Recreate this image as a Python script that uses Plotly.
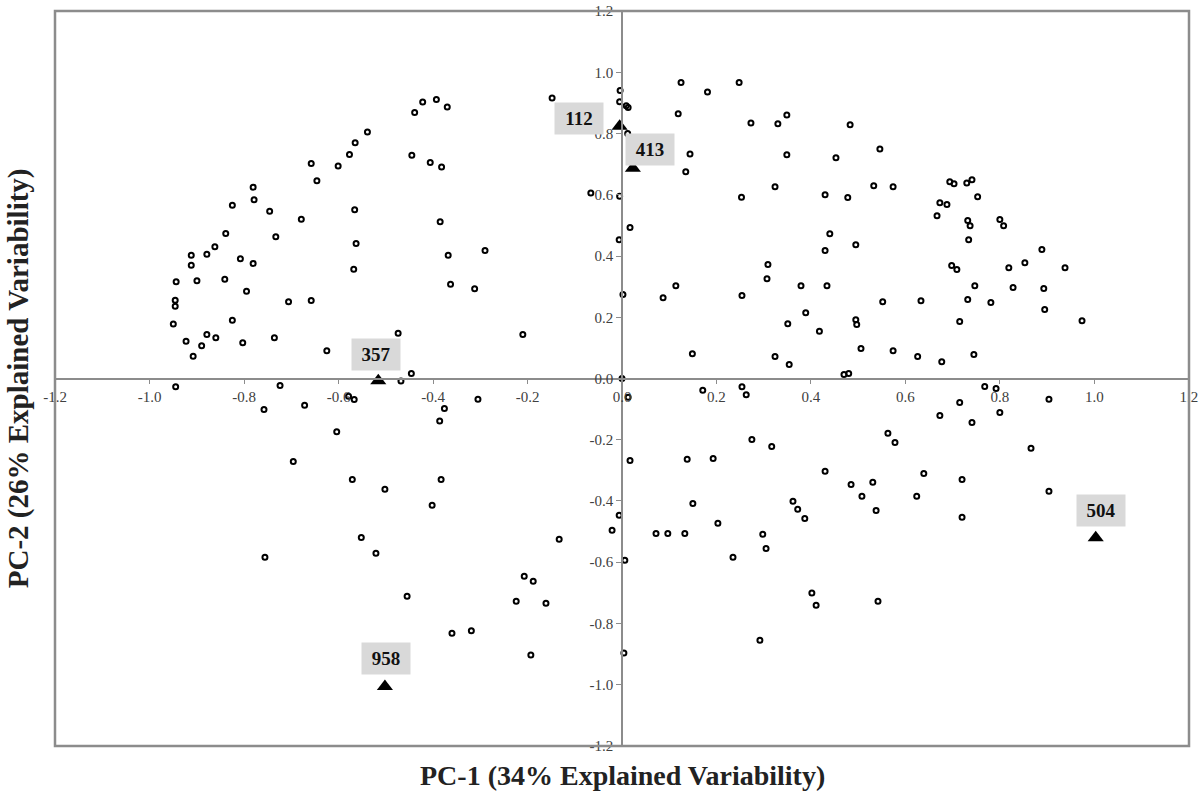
import plotly.graph_objects as go

# ---- data: PCA scores (PC-1, PC-2) ----
pc1 = [
    -0.393, -0.422, -0.370, -0.439, -0.539, -0.565, -0.577, -0.658, -0.601, -0.445,
    -0.406, -0.382, -0.646, -0.781, -0.779, -0.825, -0.746, -0.566, -0.679, -0.385,
    -0.839, -0.733, -0.563, -0.862, -0.879, -0.912, -0.808, -0.781, -0.912, -0.368,
    -0.290, -0.568, -0.944, -0.900, -0.841, -0.795, -0.363, -0.312, -0.946, -0.946,
    -0.706, -0.658, -0.950, -0.825, -0.923, -0.879, -0.860, -0.803, -0.736, -0.890,
    -0.908, -0.474, -0.625, -0.446, -0.468, -0.945, -0.724, -0.148, -0.210, -0.066,
    # lower left
    -0.758, -0.672, -0.579, -0.567, -0.604, -0.376, -0.386, -0.305, -0.696, -0.571,
    -0.502, -0.383, -0.402, -0.756, -0.552, -0.521, -0.455, -0.360, -0.319, -0.224,
    -0.207, -0.188, -0.161, -0.193, -0.133,
    # upper right
    -0.004, -0.005, 0.009, 0.013, 0.012, -0.005, 0.017, -0.006, 0.002, 0.119,
    0.125, 0.181, 0.248, 0.144, 0.135, 0.253, 0.087, 0.114, 0.149, 0.324,
    0.354, 0.418, 0.273, 0.254, 0.307, 0.309, 0.330, 0.349, 0.349, 0.324,
    0.379, 0.389, 0.351, 0.434, 0.430, 0.440, 0.430, 0.478, 0.453, 0.483,
    0.546, 0.533, 0.574, 0.495, 0.552, 0.495, 0.497, 0.506, 0.470, 0.480,
    0.574, 0.633, 0.626, 0.677, 0.673, 0.667, 0.694, 0.703, 0.688, 0.730,
    0.741, 0.753, 0.732, 0.737, 0.734, 0.698, 0.709, 0.747, 0.732, 0.715,
    0.745, 0.781, 0.800, 0.808, 0.828, 0.819, 0.853, 0.893, 0.895, 0.938,
    0.889, 0.974, 0.000,
    # lower right
    0.171, 0.254, 0.263, 0.013, 0.017, -0.006, -0.021, 0.006, 0.004, 0.072,
    0.097, 0.133, 0.138, 0.150, 0.193, 0.203, 0.235, 0.275, 0.317, 0.298,
    0.305, 0.292, 0.362, 0.372, 0.387, 0.402, 0.411, 0.430, 0.485, 0.508,
    0.538, 0.531, 0.542, 0.563, 0.578, 0.624, 0.639, 0.673, 0.715, 0.720,
    0.720, 0.741, 0.768, 0.792, 0.800, 0.866, 0.904, 0.904,
]
pc2 = [
    0.911, 0.903, 0.887, 0.869, 0.805, 0.770, 0.732, 0.702, 0.694, 0.729,
    0.706, 0.691, 0.646, 0.625, 0.584, 0.566, 0.546, 0.551, 0.520, 0.512,
    0.474, 0.463, 0.441, 0.430, 0.406, 0.403, 0.391, 0.376, 0.370, 0.403,
    0.418, 0.357, 0.316, 0.319, 0.324, 0.285, 0.308, 0.293, 0.256, 0.236,
    0.251, 0.255, 0.178, 0.190, 0.122, 0.144, 0.133, 0.117, 0.133, 0.107,
    0.073, 0.148, 0.091, 0.016, -0.008, -0.027, -0.023, 0.916, 0.144, 0.606,
    # lower left
    -0.101, -0.087, -0.058, -0.069, -0.174, -0.098, -0.139, -0.068, -0.271, -0.330,
    -0.362, -0.330, -0.414, -0.584, -0.519, -0.571, -0.711, -0.832, -0.824, -0.728,
    -0.646, -0.662, -0.734, -0.903, -0.525,
    # upper right
    0.941, 0.904, 0.891, 0.885, 0.800, 0.595, 0.493, 0.453, 0.274, 0.865,
    0.967, 0.936, 0.967, 0.733, 0.675, 0.592, 0.264, 0.303, 0.081, 0.072,
    0.046, 0.154, 0.835, 0.271, 0.326, 0.372, 0.832, 0.861, 0.731, 0.626,
    0.303, 0.215, 0.179, 0.303, 0.418, 0.473, 0.600, 0.591, 0.721, 0.829,
    0.750, 0.630, 0.626, 0.437, 0.251, 0.192, 0.176, 0.098, 0.013, 0.016,
    0.091, 0.254, 0.072, 0.055, 0.574, 0.532, 0.643, 0.636, 0.568, 0.639,
    0.649, 0.594, 0.516, 0.499, 0.453, 0.369, 0.356, 0.303, 0.258, 0.186,
    0.078, 0.248, 0.519, 0.499, 0.297, 0.362, 0.378, 0.294, 0.225, 0.362,
    0.421, 0.189, 0.000,
    # lower right
    -0.038, -0.027, -0.053, -0.061, -0.268, -0.447, -0.496, -0.594, -0.897, -0.506,
    -0.506, -0.506, -0.264, -0.408, -0.261, -0.473, -0.584, -0.199, -0.222, -0.509,
    -0.555, -0.855, -0.401, -0.427, -0.457, -0.701, -0.741, -0.303, -0.346, -0.385,
    -0.431, -0.339, -0.728, -0.179, -0.209, -0.385, -0.310, -0.121, -0.078, -0.330,
    -0.453, -0.144, -0.026, -0.033, -0.111, -0.228, -0.068, -0.368,
]

# highlighted samples
sel_labels = ["112", "413", "357", "504", "958"]
sel_pc1 = [-0.005, 0.023, -0.516, 1.003, -0.502]
sel_pc2 = [0.824, 0.687, -0.007, -0.520, -1.006]
# label offsets (pixels) relative to the marker
sel_dx = [-41, 17, -2, 5, 1]
sel_dy = [8, 19, 26, 27, 28]

tick_vals = [-1.2, -1.0, -0.8, -0.6, -0.4, -0.2, 0.0, 0.2, 0.4, 0.6, 0.8, 1.0, 1.2]
tick_text = ["%.1f" % v for v in tick_vals]

x_title = "PC-1 (34% Explained Variability)"
y_title = "PC-2 (26% Explained Variability)"

SERIF = "Liberation Serif, Times New Roman, serif"
AX = "#8c8c8c"

fig = go.Figure()
fig.add_trace(go.Scatter(
    x=pc1, y=pc2, mode="markers",
    marker=dict(symbol="circle-open", size=5, color="black", line=dict(width=2)),
    hoverinfo="x+y", showlegend=False,
))
fig.add_trace(go.Scatter(
    x=sel_pc1, y=sel_pc2, mode="markers",
    marker=dict(symbol="triangle-up", size=14, color="black"),
    text=sel_labels, hoverinfo="text+x+y", showlegend=False,
))

for lab, xv, yv, dx, dy in zip(sel_labels, sel_pc1, sel_pc2, sel_dx, sel_dy):
    fig.add_annotation(
        x=xv, y=yv, xref="x", yref="y", text="<b>%s</b>" % lab, showarrow=False,
        xshift=dx, yshift=dy, width=46, height=29, bgcolor="#d9d9d9",
        font=dict(family=SERIF, size=19, color="#111111"),
    )

fig.add_annotation(
    x=0.5, y=-0.0395, xref="paper", yref="paper", text="<b>%s</b>" % x_title,
    showarrow=False, xanchor="center", yanchor="middle",
    font=dict(family=SERIF, size=28, color="#222222"),
)
fig.add_annotation(
    x=-0.032, y=0.5, xref="paper", yref="paper", text="<b>%s</b>" % y_title,
    showarrow=False, textangle=-90, xanchor="center", yanchor="middle",
    font=dict(family=SERIF, size=29, color="#222222"),
)

fig.add_shape(type="rect", xref="paper", yref="paper", x0=0, y0=0, x1=1, y1=1,
              line=dict(color=AX, width=2.5), layer="above")

axis_common = dict(
    tickvals=tick_vals, ticktext=tick_text, showgrid=False, zeroline=False,
    showline=True, linecolor=AX, linewidth=1.5, ticks="outside", ticklen=5,
    tickcolor=AX, tickwidth=1, anchor="free", position=0.5, automargin=False,
    tickfont=dict(family=SERIF, size=15, color="#404040"),
)
fig.update_layout(
    width=1199, height=791,
    margin=dict(l=55, r=10, t=11, b=45, autoexpand=False),
    paper_bgcolor="white", plot_bgcolor="white",
    xaxis=dict(range=[-1.2005, 1.2005], **axis_common),
    yaxis=dict(range=[-1.2005, 1.2005], **axis_common),
    showlegend=False,
)

fig.write_html("out.html")
